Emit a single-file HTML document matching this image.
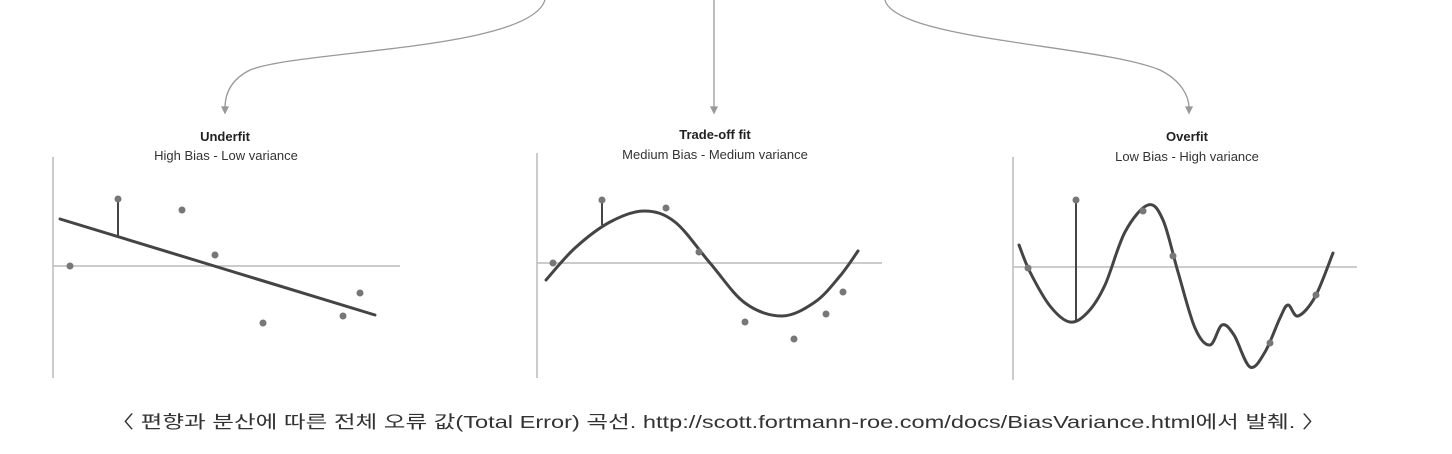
<!DOCTYPE html>
<html><head><meta charset="utf-8">
<style>
html,body{margin:0;padding:0;background:#fff;}
body{width:1452px;height:454px;overflow:hidden;position:relative;}
svg{position:absolute;left:0;top:0;}
text{font-family:"Liberation Sans","Noto Sans CJK KR",sans-serif;}
</style></head>
<body>
<svg id="chart" width="1452" height="454" viewBox="0 0 1452 454">
  <g fill="none" stroke="#999" stroke-width="1.3">
    <path d="M545,0 C530,50 300,50 250,70 C230,80 225,95 225,108"/>
    <path d="M714,0 L714,108"/>
    <path d="M885,0 C895,40 1100,45 1160,70 C1180,80 1189,95 1189,108"/>
    <path d="M222,107 L225,113 L228,107 Z" fill="#999"/>
    <path d="M711,107 L714,113 L717,107 Z" fill="#999"/>
    <path d="M1186,107 L1189,113 L1192,107 Z" fill="#999"/>
  </g>
  <g text-anchor="middle" fill="#222">
    <text x="225" y="141" font-size="13" font-weight="bold">Underfit</text>
    <text x="226" y="160" font-size="13" fill="#333">High Bias - Low variance</text>
    <text x="715" y="139" font-size="13" font-weight="bold">Trade-off fit</text>
    <text x="715" y="159" font-size="13" fill="#333">Medium Bias - Medium variance</text>
    <text x="1187" y="141" font-size="13" font-weight="bold">Overfit</text>
    <text x="1187" y="161" font-size="13" fill="#333">Low Bias - High variance</text>
  </g>
  <text x="718" y="428" text-anchor="middle" font-size="17.5" fill="#333" textLength="1215" lengthAdjust="spacingAndGlyphs">〈 편향과 분산에 따른 전체 오류 값(Total Error) 곡선. http://scott.fortmann-roe.com/docs/BiasVariance.html에서 발췌. 〉</text>
</svg>
<script>
// Panel 1 (underfit)
const underfitPointsX = [70,118,182,215,263,343,360];
const underfitPointsY = [266,199,210,255,323,316,293];
const underfitLineX = [60,375];
const underfitLineY = [219,315];
// Panel 2 (trade-off)
const tradeoffPointsX = [553,602,666,699,745,794,826,843];
const tradeoffPointsY = [263,200,208,252,322,339,314,292];
const tradeoffCurveX = [546,575,610,644,675,710,745,782,815,840,858];
const tradeoffCurveY = [280,248,222,211,222,263,303,316,302,276,251];
// Panel 3 (overfit)
const overfitPointsX = [1028,1076,1143,1173,1270,1316];
const overfitPointsY = [268,200,211,256,343,295];
const overfitCurveX = [1019,1030,1050,1070,1088,1105,1125,1148,1163,1178,1195,1210,1222,1234,1250,1265,1280,1288,1298,1315,1333];
const overfitCurveY = [245,272,306,322,312,285,232,205,220,272,328,345,325,335,367,352,318,305,316,297,253];

const NS='http://www.w3.org/2000/svg';
const svg=document.getElementById('chart');
function mk(tag,attrs){const e=document.createElementNS(NS,tag);for(const k in attrs)e.setAttribute(k,attrs[k]);return e;}
function smooth(xs,ys){
  let d='M'+xs[0]+','+ys[0];
  for(let i=0;i<xs.length-1;i++){
    const x0=xs[Math.max(i-1,0)],y0=ys[Math.max(i-1,0)];
    const x1=xs[i],y1=ys[i],x2=xs[i+1],y2=ys[i+1];
    const x3=xs[Math.min(i+2,xs.length-1)],y3=ys[Math.min(i+2,ys.length-1)];
    d+=' C'+(x1+(x2-x0)/6)+','+(y1+(y2-y0)/6)+' '+(x2-(x3-x1)/6)+','+(y2-(y3-y1)/6)+' '+x2+','+y2;
  }
  return d;
}
function panel(name,ax,ay0,ay1,hy,hx1,px,py,cx,cy,resIdx,resY){
  const g=mk('g',{});
  
  
  const va=mk('line',{x1:ax,y1:ay0,x2:ax,y2:ay1,stroke:'#bbb','stroke-width':1.5});
  
  
  g.appendChild(va);
  const ha=mk('line',{x1:ax,y1:hy,x2:hx1,y2:hy,stroke:'#bbb','stroke-width':1.5});
  
  
  g.appendChild(ha);
  const r=mk('line',{x1:px[resIdx],y1:py[resIdx],x2:px[resIdx],y2:resY,stroke:'#444','stroke-width':2});
  
  
  g.appendChild(r);
  const c=mk('path',{d:smooth(cx,cy),fill:'none',stroke:'#444','stroke-width':3,'stroke-linecap':'round','stroke-linejoin':'round'});
  
  
  g.appendChild(c);
  for(let i=0;i<px.length;i++){
    const p=mk('circle',{cx:px[i],cy:py[i],r:3.5,fill:'#777'});
    
    
    g.appendChild(p);
  }
  svg.appendChild(g);
}
function lineAt(xs,ys,x){return ys[0]+(ys[1]-ys[0])*(x-xs[0])/(xs[1]-xs[0]);}
panel('underfit',53,157,378,266,400,underfitPointsX,underfitPointsY,underfitLineX,underfitLineY,1,lineAt(underfitLineX,underfitLineY,underfitPointsX[1]));
panel('tradeoff',537,153,378,263,882,tradeoffPointsX,tradeoffPointsY,tradeoffCurveX,tradeoffCurveY,1,225);
panel('overfit',1013,157,380,267,1357,overfitPointsX,overfitPointsY,overfitCurveX,overfitCurveY,1,320);
</script>
</body></html>
